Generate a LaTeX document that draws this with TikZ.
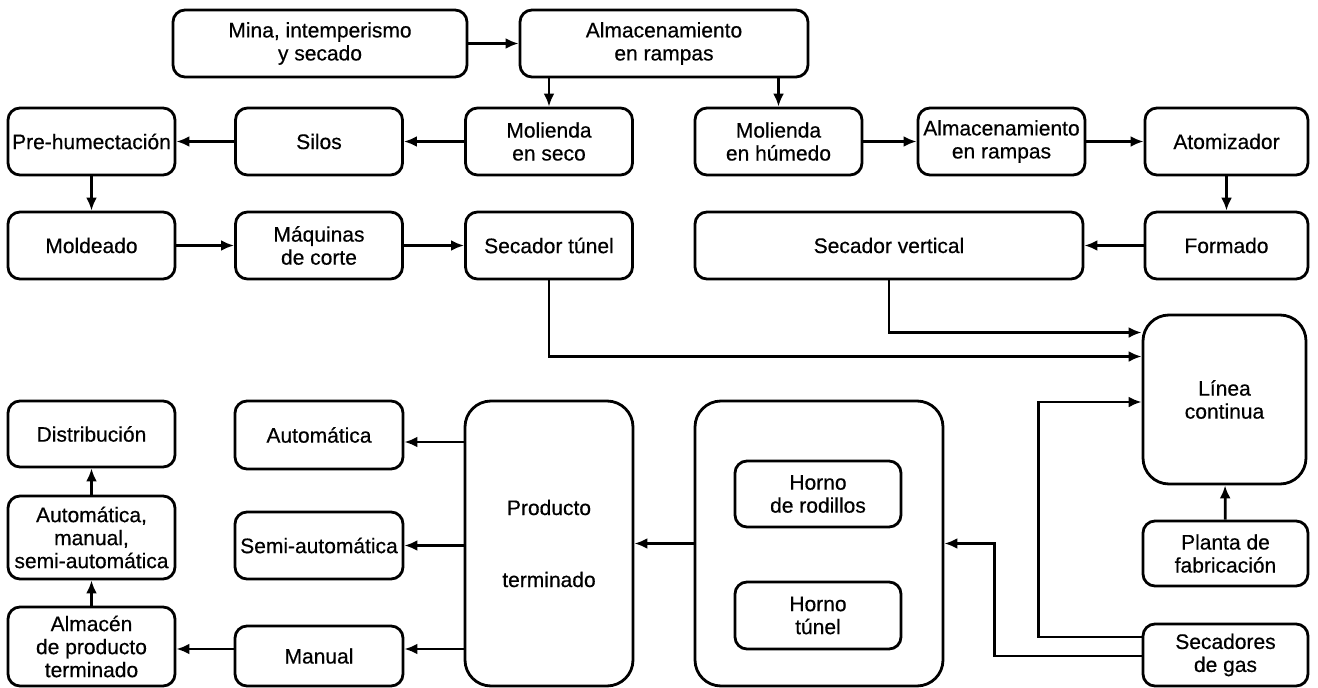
\documentclass[tikz,border=0pt]{standalone}
\usepackage{fontspec}
\setmainfont{Liberation Sans}
\newfontfamily\letra{Liberation Sans}[FakeBold=0.5]
\usepackage{tikz}
\usetikzlibrary{arrows.meta}

\begin{document}
\begin{tikzpicture}[x=1pt,y=-1pt,
		caja/.style={draw,line width=2.8pt,rounded corners=12pt,align=center,inner sep=0pt,
			minimum width=167pt,minimum height=67pt,font=\letra\fontsize{21pt}{23pt}\selectfont},
		grande/.style={caja,rounded corners=26pt},
		flecha/.style={-{Latex[length=13pt,width=11pt]},line width=2.8pt}]
			\useasboundingbox (0,0) rectangle (1318,688);
			% extraccion y almacenamiento
			\node[caja,minimum width=294pt] (mina) at (320,43.5) {Mina, intemperismo\\y secado};
			\node[caja,minimum width=288pt] (rampas) at (664,43.5) {Almacenamiento\\en rampas};
			% via seca
			\node[caja] (prehum) at (91.5,141.5) {Pre-humectación};
			\node[caja] (silos) at (319,141.5) {Silos};
			\node[caja] (molseco) at (549,141.5) {Molienda\\en seco};
			\node[caja] (moldeado) at (91.5,245.5) {Moldeado};
			\node[caja] (maquinas) at (319,245.5) {Máquinas\\de corte};
			\node[caja] (sectunel) at (549,245.5) {Secador túnel};
			% via humeda
			\node[caja] (molhum) at (778.5,141.5) {Molienda\\en húmedo};
			\node[caja] (rampasb) at (1001.5,141.5) {Almacenamiento\\en rampas};
			\node[caja,minimum width=163pt] (atom) at (1226.5,141.5) {Atomizador};
			\node[caja,minimum width=388pt] (secvert) at (889,245.5) {Secador vertical};
			\node[caja,minimum width=163pt] (formado) at (1226.5,245.5) {Formado};
			% linea continua y gas
			\node[grande,minimum width=163pt,minimum height=169pt] (linea) at (1224.5,399.5) {Línea\\continua};
			\node[caja,minimum width=165pt,minimum height=65pt] (planta) at (1225.5,553.5) {Planta de\\fabricación};
			\node[caja,minimum width=165pt,minimum height=62pt] (secadores) at (1225.5,655) {Secadores\\de gas};
			% hornos
			\node[grande,minimum width=248pt,minimum height=285pt] (horno) at (819,543.5) {};
			\node[caja,minimum width=166pt,minimum height=66pt] (rodillos) at (818,494) {Horno\\de rodillos};
			\node[caja,minimum width=166pt,minimum height=67pt] (hornotunel) at (818,615.5) {Horno\\túnel};
			% producto terminado
			\node[grande,minimum width=168pt,minimum height=285pt] (producto) at (549,543.5) {Producto\\[49pt]terminado};
			\node[caja,minimum width=168pt,minimum height=68pt] (automatica) at (319,435) {Automática};
			\node[caja,minimum width=168pt] (semi) at (319,545.5) {Semi-automática};
			\node[caja,minimum width=168pt,minimum height=60pt] (manual) at (319,656) {Manual};
			% empaque y salida
			\node[caja,minimum height=66pt] (distribucion) at (91.5,434) {Distribución};
			\node[caja,minimum height=83pt] (ams) at (91.5,537.5) {Automática,\\manual,\\semi-automática};
			\node[caja,minimum height=79pt] (almacenpt) at (91.5,646.5) {Almacén\\de producto\\terminado};
			% flechas
			\draw[flecha] (mina) -- (rampas);
			\draw[flecha] (molseco.north |- rampas.south) -- (molseco);
			\draw[flecha] (molhum.north |- rampas.south) -- (molhum);
			\draw[flecha] (molseco) -- (silos);
			\draw[flecha] (silos) -- (prehum);
			\draw[flecha] (prehum) -- (moldeado);
			\draw[flecha] (moldeado) -- (maquinas);
			\draw[flecha] (maquinas) -- (sectunel);
			\draw[flecha] (molhum) -- (rampasb);
			\draw[flecha] (rampasb) -- (atom);
			\draw[flecha] (atom) -- (formado);
			\draw[flecha] (formado) -- (secvert);
			\draw[flecha] (secvert.south) |- ([yshift=67pt]linea.west);
			\draw[flecha] (sectunel.south) |- ([yshift=43pt]linea.west);
			\draw[flecha] ([yshift=18pt]secadores.west) -- ++(-103,0) |- ([yshift=-2.5pt]linea.west);
			\draw[flecha] ([yshift=-1pt]secadores.west) -- ++(-147,0) |- (horno.east);
			\draw[flecha] (planta) -- (linea);
			\draw[flecha] (horno) -- (producto);
			\draw[flecha] ([yshift=-7pt]automatica.east -| producto.west) -- ([yshift=-7pt]automatica.east);
			\draw[flecha] (semi.east -| producto.west) -- (semi);
			\draw[flecha] ([yshift=7pt]manual.east -| producto.west) -- ([yshift=7pt]manual.east);
			\draw[flecha] ([yshift=7pt]manual.west) -- ([yshift=7pt]manual.west -| almacenpt.east);
			\draw[flecha] (almacenpt) -- (ams);
			\draw[flecha] (ams) -- (distribucion);
		\end{tikzpicture}
\end{document}
